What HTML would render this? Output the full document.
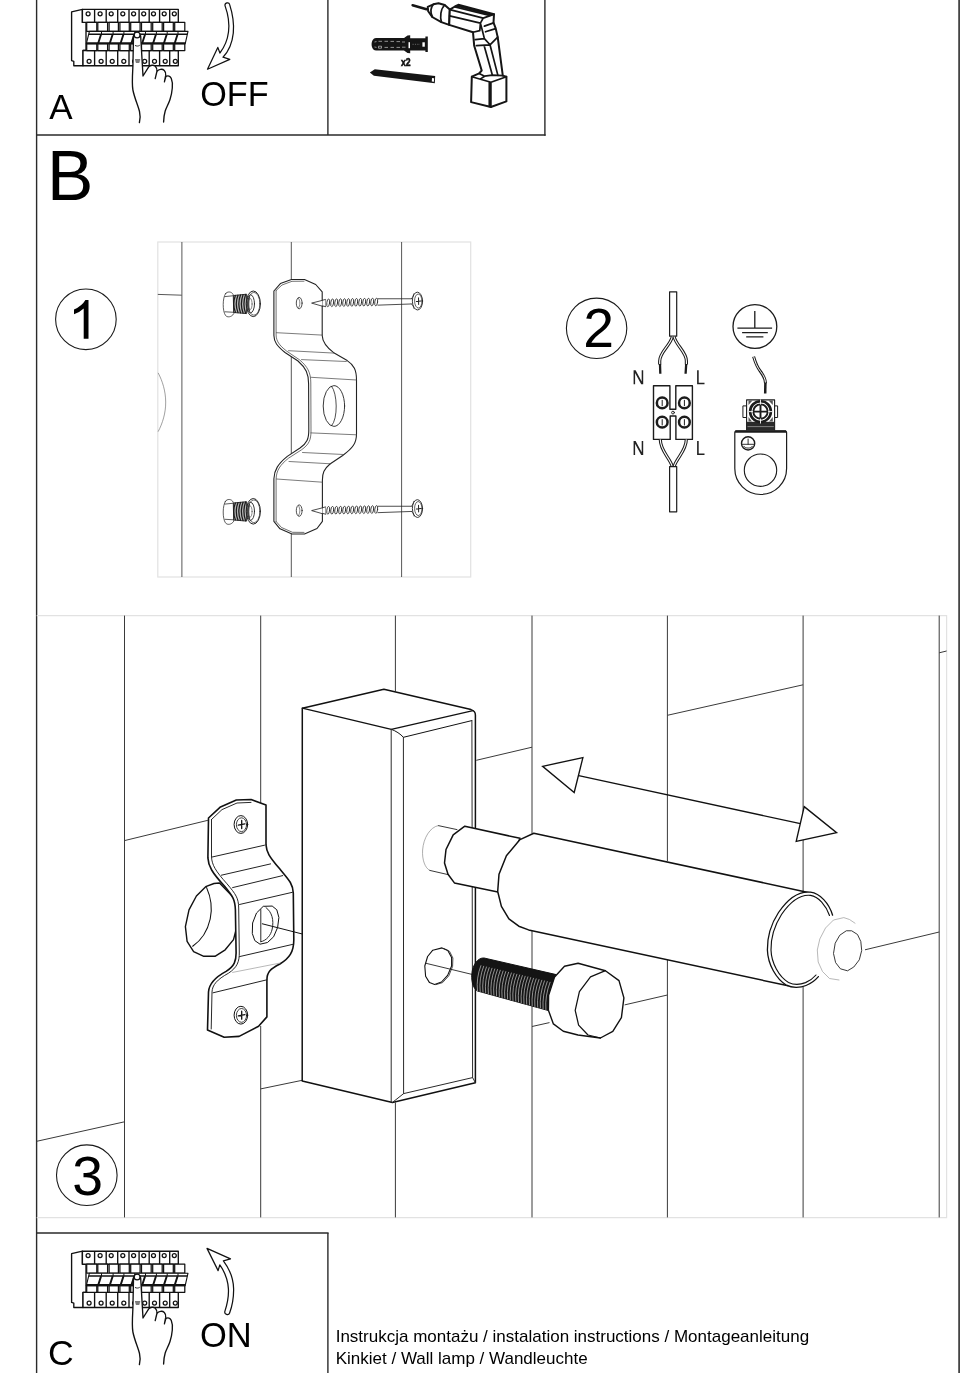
<!DOCTYPE html>
<html><head><meta charset="utf-8"><title>Instrukcja montażu</title>
<style>
html,body{margin:0;padding:0;background:#fff}
body{width:970px;height:1373px;overflow:hidden;font-family:"Liberation Sans",sans-serif}
svg{display:block;filter:grayscale(1)}
.f line{stroke:#2a2a2a;stroke-width:1.4;fill:none}
.lg *{stroke:#e2e2e2;stroke-width:1.2;fill:none}
.t line{stroke:#3a3a3a;stroke-width:1.0;fill:none}
.tx text{font-family:"Liberation Sans",sans-serif;fill:#000}
.c circle{stroke:#1a1a1a;stroke-width:1.1;fill:none}
.k{stroke:#111;stroke-width:1.2;fill:none;stroke-linejoin:round;stroke-linecap:round}
.kw{stroke:#111;stroke-width:1.2;fill:#fff;stroke-linejoin:round;stroke-linecap:round}
.n{stroke:#2a2a2a;stroke-width:1.0;fill:none;stroke-linejoin:round;stroke-linecap:round}
.nw{stroke:#2a2a2a;stroke-width:1.0;fill:#fff;stroke-linejoin:round;stroke-linecap:round}
</style></head>
<body>
<svg width="970" height="1373" viewBox="0 0 970 1373">
<rect x="0" y="0" width="970" height="1373" fill="#fff"/>
<g class="f">
<line x1="36.6" y1="0" x2="36.6" y2="1373"/>
<line x1="959.1" y1="0" x2="959.1" y2="1373" style="stroke-width:1.7;stroke:#3a3a3a"/>
<line x1="36" y1="135.05" x2="545.6" y2="135.05"/>
<line x1="327.9" y1="0" x2="327.9" y2="135"/>
<line x1="544.9" y1="0" x2="544.9" y2="135.7"/>
<line x1="36" y1="1233" x2="328.6" y2="1233"/>
<line x1="327.9" y1="1233" x2="327.9" y2="1373"/>
</g>
<g class="lg">
<polyline points="36.7,615.6 946.6,615.6 946.6,1217.7 36.7,1217.7"/>
<rect x="157.8" y="242" width="312.9" height="335"/>
</g>
<g class="tx">
<text x="49.2" y="119.4" font-size="35">A</text>
<text x="200.2" y="105.8" font-size="34.2">OFF</text>
<text x="47.1" y="200.3" font-size="69.5">B</text>
<path d="M88.5,338.8 L83.7,338.8 L83.7,308.4 Q79.8,312.1 74,314.2 L74,309.5 Q82.2,305.6 85.4,299.9 L88.5,299.9 Z" fill="#000"/>
<text x="583.2" y="347.4" font-size="55.3">2</text>
<text x="72.3" y="1194.6" font-size="55.3">3</text>
<text x="48" y="1364.7" font-size="35.6">C</text>
<text x="200" y="1347.4" font-size="34.5">ON</text>
<text x="335.7" y="1341.7" font-size="17">Instrukcja montażu / instalation instructions / Montageanleitung</text>
<text x="335.7" y="1364.4" font-size="17">Kinkiet / Wall lamp / Wandleuchte</text>
</g>
<g class="c">
<circle cx="85.9" cy="319.3" r="30.3"/>
<circle cx="596.6" cy="328.3" r="30.2"/>
<circle cx="86.8" cy="1175.2" r="30.3"/>
</g>
<g class="t">
<line x1="124.5" y1="615.6" x2="124.5" y2="1217.4"/>
<line x1="260.7" y1="615.6" x2="260.7" y2="803"/>
<line x1="260.7" y1="1026" x2="260.7" y2="1217.4"/>
<line x1="395.4" y1="615.6" x2="395.4" y2="691.5"/>
<line x1="395.4" y1="1102.5" x2="395.4" y2="1217.4"/>
<line x1="532" y1="615.6" x2="532" y2="833.5"/>
<line x1="532" y1="930.5" x2="532" y2="1217.4"/>
<line x1="667.4" y1="615.6" x2="667.4" y2="861"/>
<line x1="667.4" y1="960" x2="667.4" y2="1217.4"/>
<line x1="803.1" y1="615.6" x2="803.1" y2="891.5"/>
<line x1="803.1" y1="986.5" x2="803.1" y2="1217.4"/>
<line x1="939.2" y1="615.6" x2="939.2" y2="1217.4"/>
<line x1="36.7" y1="1141.3" x2="124.5" y2="1121.8"/>
<line x1="124.5" y1="840.6" x2="207.9" y2="820.3"/>
<line x1="260.7" y1="1088.9" x2="302.2" y2="1080.3"/>
<line x1="476.3" y1="760.3" x2="532" y2="747.2"/>
<line x1="532" y1="1026.5" x2="549.5" y2="1022.6"/>
<line x1="624.6" y1="1004.9" x2="667.4" y2="995"/>
<line x1="667.4" y1="715.3" x2="803.1" y2="684.8"/>
<line x1="865" y1="949.8" x2="939.2" y2="932"/>
<line x1="939.2" y1="652.8" x2="946.6" y2="651"/>
</g>
<g>
<path class="kw" style="stroke-width:1.5" d="M302.3,708.2 L383.9,689.2 L471,709.6 Q475.4,710.8 475.4,715 L475.4,1082.7 L392.4,1102.5 L302.2,1080.9 Z"/>
<path class="k" style="stroke-width:1.3" d="M302.3,708.2 L391.3,729.3 L473,710.7"/>
<path class="k" style="stroke-width:1.0" d="M391.3,729.3 C396,731 400.5,734 403.4,737.3 L471.8,720.6"/>
<path class="n" d="M391.2,729.3 L391.2,1102.2"/>
<path class="n" d="M403.4,737.3 L403.6,1093.6 L392.4,1102.5"/>
<path class="n" d="M403.6,1093.6 L472.6,1077.6"/>
<path class="n" d="M471.9,720.6 L472.6,1077.6 L475.4,1082.7"/>
</g>
<path class="n" style="stroke:#222;stroke-width:0.9" d="M438.3,825.6 L457,829.6 M429.7,870.4 L451,875.3"/>
<path class="n" style="stroke:#777;stroke-width:0.6" d="M438.3,825.6 C430,827 423.5,838 422.6,850 C422,860 425,868 429.7,870.4"/>
<path class="kw" style="stroke-width:1.5" d="M464.8,826.2 L453.2,834.8 L446,849.5 L444.5,863 L448,874.2 L454.4,882.9 L497.9,892.1 L520,838.3 Z"/>
<path class="kw" style="stroke-width:1.5" d="M533.8,833.3 L520,839.6 L506.4,855.7 L499,874.2 L497.7,891.5 L501.4,906.4 L508.9,918.8 L518.8,926.2 L528.6,929.9 L788.2,985.8 L815,960 L810.5,892.9 Z"/>
<path class="kw" style="stroke:none" d="M810.5,892.2 C800,891 789,897 778.5,912.5 C771,924 767.2,938 767.4,950 C767.8,964 776,979 786.5,985.2 C800,990 812,984 818.4,976.6 L832.6,915.2 C829,903 820,893.5 810.5,892.2 Z"/>
<path class="k" style="stroke-width:1.3" d="M832.6,915.2 C829,903 820,893.5 810.5,892.2 C800,891 789,897 778.5,912.5 C771,924 767.2,938 767.4,950 C767.8,964 776,979 786.5,985.2 C792,988 800,988 806,985.5 C811,983.5 815.5,980 818.4,976.6"/>
<path class="k" style="stroke-width:1.15" d="M829.5,915.5 C826,905.5 818.5,896.5 810.5,895.4 C801.5,894.4 791.5,900 781.5,914.5 C774.5,925.5 770.8,938.5 771,950 C771.4,963 779,977 788.5,982.4 C793.5,984.8 800,984.8 805.5,982.6 C810,980.6 813.5,978 816,975"/>
<path class="n" style="stroke:#999;stroke-width:0.7" d="M855,923.2 L849.5,919.5 L843.8,917.6 L833.5,920 L825.5,928 L819.8,939 L817.3,950 L818.2,962 L822.5,971.5 L829.5,978.5 L839,980"/>
<path class="nw" style="stroke:#222;stroke-width:0.9" d="M846,931 L839.8,935.2 L835.2,943.2 L833.5,953.5 L835.6,962.6 L840.4,968.8 L847.5,970.8 L853.8,967 L859.3,959.8 L861.7,950.5 L860.8,941.5 L857.5,934.5 L852,931 Z"/>
<path class="n" style="stroke:#111;stroke-width:1.1" d="M432.8,950.2 L427.6,956.5 L424.8,966 L425.6,976.2 L429.5,982.6 L434.6,984.4 L441.5,982 L447.6,975.4 L451.6,966 L451.6,957.5 L447.8,950.4 L442,947.9 Z"/>
<path class="n" style="stroke:#222;stroke-width:0.8" d="M444,948.6 L449.6,951.4 L452.9,958 L452.6,966.4 L448.8,975.8 L442.6,982.6 L436,984.6"/>
<path class="n" style="stroke:#222;stroke-width:0.9" d="M426,963.3 L472,974.4"/>
<path d="M484.1,958 C478,957.5 472.5,964.5 471.8,974.5 C471.3,982 473.5,989 477.5,991 L548.6,1010.6 L556.2,974.6 Z" fill="#141414" stroke="#111" stroke-width="1"/>
<path d="M481.0,965.3 Q476.1,978.1 477.5,991.0 M483.8,965.9 Q478.8,978.8 480.2,991.8 M486.6,966.6 Q481.6,979.5 483.0,992.5 M489.3,967.3 Q484.3,980.3 485.7,993.3 M492.1,967.9 Q487.1,981.0 488.4,994.0 M494.9,968.6 Q489.8,981.7 491.2,994.8 M497.6,969.2 Q492.6,982.4 493.9,995.5 M500.4,969.9 Q495.3,983.1 496.6,996.3 M503.2,970.6 Q498.1,983.8 499.4,997.0 M505.9,971.2 Q500.8,984.5 502.1,997.8 M508.7,971.9 Q503.6,985.2 504.8,998.5 M511.5,972.6 Q506.3,985.9 507.6,999.3 M514.2,973.2 Q509.1,986.6 510.3,1000.0 M517.0,973.9 Q511.8,987.3 513.0,1000.8 M519.8,974.6 Q514.6,988.1 515.8,1001.6 M522.5,975.2 Q517.3,988.8 518.5,1002.3 M525.3,975.9 Q520.1,989.5 521.3,1003.1 M528.0,976.5 Q522.8,990.2 524.0,1003.8 M530.8,977.2 Q525.6,990.9 526.7,1004.6 M533.6,977.9 Q528.3,991.6 529.5,1005.3 M536.3,978.5 Q531.1,992.3 532.2,1006.1 M539.1,979.2 Q533.8,993.0 534.9,1006.8 M541.9,979.9 Q536.6,993.7 537.7,1007.6 M544.6,980.5 Q539.3,994.4 540.4,1008.3 M547.4,981.2 Q542.1,995.1 543.1,1009.1 M550.2,981.9 Q544.8,995.9 545.9,1009.8 M552.9,982.5 Q547.6,996.6 548.6,1010.6" fill="none" stroke="#c8c8c8" stroke-width="0.7"/>
<path class="kw" style="stroke-width:1.4" d="M578.1,963.3 L564.5,966.3 L554.6,976.9 L548.6,995.4 L548.4,1010.3 L553.4,1023.9 L563.3,1031.3 L578,1035 L600.4,1038 L612.8,1031.3 L621.4,1017.7 L623.9,997.9 L619,980.6 L605.4,970.7 Z"/>
<path class="k" style="stroke-width:1.25" d="M605.4,970.7 L590.5,976.9 L579.4,991.7 L575.2,1010.3 L578.6,1025.1 L588,1035 L600.4,1038"/>
<path class="k" style="stroke-width:1.3" d="M578.7,775.7 L800.4,823.6"/>
<path class="kw" style="stroke-width:1.35;stroke-linejoin:miter" d="M542.6,766.3 L582.9,757.6 L574.2,792.5 Z"/>
<path class="kw" style="stroke-width:1.35;stroke-linejoin:miter" d="M804.2,806.6 L836.6,832.7 L796.2,841.4 Z"/>
<path class="kw" style="stroke-width:1.4" d="M219.5,883 L214,883.5 L205.7,886.7 L196.4,896 L189,909.9 L185.4,926.6 L187.1,941.4 L193.6,951.6 L203.8,956.3 L215,956.3 L225.2,949.8 L233.5,939.6 L236,930 L236,900 Z"/>
<path class="k" style="stroke-width:1.1" d="M206.6,887.6 C210.8,897 212.6,908 210.2,919 C207.5,931 201,940.5 192.7,946.2"/>
<path class="kw" style="stroke-width:1.6" d="M208.5,818 L220.5,806.9 L236.3,800 L251.1,799.5 L266,805 L266,844.9 C266.5,852 268.8,856.1 279.9,869.1 C289.2,880.2 292.9,884 293.3,893 L293.8,940 C293.8,952 289.2,958.5 279.9,964 C270.6,968.7 266.9,972 266.9,980 L266.9,1016.9 L258.6,1026.2 L239.1,1036.4 L224.2,1037.3 L207.5,1029.9 L208.5,992 C209,984 214,977.9 226.1,971.4 C234.4,966 236.3,961 236.1,952 L235.4,909.9 C235,900 233.5,897 224.2,885.8 C212.2,872.8 208.2,866 207.9,857.9 Z"/>
<path class="k" style="stroke-width:0.9" d="M211.5,819.5 L211.5,857 C212,865 215.5,871 227,883.8 C236,894.5 238.5,898 238.7,908 L239.3,952 C239.5,962 237,967.5 228.5,973.2 C217,979.5 212.3,985 212,992 L211.2,1029"/>
<path class="k" style="stroke-width:0.9" d="M211.5,819.5 L222,809.6 L237,803 L251,802.4"/>
<path class="n" style="stroke:#222" d="M212.2,857 L264.5,845.2 M221.4,875.2 L270.6,863.9 M232.6,887.6 L282.7,875.6 M239.5,904.5 L292.4,892.3 M239.5,956.6 L292.6,944.4 M213,992.8 L266.9,979.8"/>
<path class="n" style="stroke:#999;stroke-width:0.7" d="M232.6,972.4 L279.9,963.1"/>
<path class="n" style="stroke:#111;stroke-width:1.0" d="M263,906.6 L256.5,913 L252.6,923 L252.3,933.5 L254.8,940.6 L260,944.2 L267.5,942.5 L273.6,936.8 L277.6,927.5 L278.9,917.5 L276.8,909.8 L272.5,906.3 Z"/>
<path class="n" style="stroke:#111;stroke-width:0.9" d="M260.8,909.6 L260.8,941.5 M266,907.6 C272,912 274,920 272.2,929 C270.8,935.5 266.5,940.5 260.8,941.8"/>
<path class="n" style="stroke:#111;stroke-width:1.0" d="M262.3,923.8 L302.3,934"/>
<ellipse class="nw" style="stroke:#111;stroke-width:1.0" cx="240.9" cy="824.5" rx="6.8" ry="8.9"/>
<ellipse class="n" style="stroke:#111;stroke-width:0.8" cx="241.5" cy="824.7" rx="5.1" ry="6.9"/>
<path class="k" style="stroke-width:1.3" d="M241.70000000000002,820.5 L241.70000000000002,828.5 M238.3,825.1 L244.9,823.9"/>
<ellipse class="nw" style="stroke:#111;stroke-width:1.0" cx="240.9" cy="1015.2" rx="6.8" ry="8.9"/>
<ellipse class="n" style="stroke:#111;stroke-width:0.8" cx="241.5" cy="1015.4000000000001" rx="5.1" ry="6.9"/>
<path class="k" style="stroke-width:1.3" d="M241.70000000000002,1011.2 L241.70000000000002,1019.2 M238.3,1015.8000000000001 L244.9,1014.6"/>
<g class="t" style="opacity:0.85">
<line x1="181.9" y1="242" x2="181.9" y2="577"/>
<line x1="291.3" y1="242" x2="291.3" y2="279"/>
<line x1="291.3" y1="534" x2="291.3" y2="577"/>
<line x1="291.3" y1="356" x2="291.3" y2="457"/>
<line x1="401.6" y1="242" x2="401.6" y2="577"/>
<line x1="157.8" y1="294.4" x2="181.9" y2="295.2"/>
</g>
<path class="n" style="stroke:#777;stroke-width:0.7" d="M158.3,373.2 C162.5,381 165.6,391 165.7,402 C165.8,413 162.5,423.5 158.3,431.3"/>
<path class="kw" style="stroke:#222;stroke-width:1.1" d="M273.9,291 L280.4,283.6 L291.5,279.5 L304.5,279.5 L315.7,284.5 L322.2,291.9 L322.2,335.5 C322.4,342 326,347 334.2,353.1 L347.2,360.6 C354,365 356.5,370 356.5,380 L356.5,434 C356.5,443 353,448 342.7,455.5 L330,464 C324,469 322.4,473 322.4,480 L322.4,521.3 L317,528.5 L304.5,534 L292,534 L280,528.8 L273.9,521.3 L273.9,478.7 C274.2,470 278,464 287.3,456.4 L300,448 C307,443 308.8,439 308.8,430 L308.6,383.8 C308.6,374 306,368 298,361 L285,352.5 C277,346 274,342 273.9,335.5 Z"/>
<path class="n" style="stroke:#333;stroke-width:0.7" d="M276.1,290.5 L276.1,335 C276.3,341 279,345 286.5,351 L299.5,359.8 C307.5,366.5 310.8,372.5 310.8,383 L311,431 C311,440 309,444.5 301.5,449.8 L288.5,458.2 C280,465 276.4,470.5 276.1,479 L276.1,521.5"/>
<path class="n" style="stroke:#333;stroke-width:0.7" d="M276.1,290.5 L282,285 L292,281.3 L304,281.2 M276.1,521.5 L281.5,527.5 L292.5,532.3 L304,532.4"/>
<path class="n" style="stroke:#444;stroke-width:0.7" d="M276.5,332.7 L322.2,335.1 M288.5,350.7 L334.2,353.1 M301.5,359.6 L346.3,361.5 M311,377.3 L356.5,380 M311,432.9 L356.5,434.8 M302.5,452.5 L343.6,454.5 M289,461.5 L330.6,463.8 M276.5,479 L322.4,482.2"/>
<ellipse class="n" style="stroke:#222;stroke-width:0.9" cx="333.9" cy="406" rx="10.7" ry="20.4"/>
<path class="n" style="stroke:#222;stroke-width:0.8" d="M331.5,386.2 C337.5,393 338.2,419 331.5,425.8"/>
<ellipse class="n" style="stroke:#222;stroke-width:0.8" cx="299.2" cy="303.1" rx="2.9" ry="5.7"/>
<path class="n" style="stroke:#333;stroke-width:0.6" d="M298.4,298.2 C300.4,300.5 300.4,305.8 298.4,308"/>
<g transform="translate(0,0) rotate(-1.0 312 303)">
<path class="nw" style="stroke:#222;stroke-width:0.8" d="M312,303 L323,300.4 L323,306.2 Z"/>
<path class="nw" style="stroke:#222;stroke-width:0.8" d="M323,300.3 L325.9,299.6 L325.9,307 L323,306.2"/>
<rect x="325.9" y="299.4" width="52" height="7.4" fill="#fff" stroke="none"/>
<g class="n" style="stroke:#2a2a2a;stroke-width:0.85"><ellipse cx="328.20" cy="303.1" rx="1.4" ry="3.9" transform="rotate(8 328.20 303.1)"/><ellipse cx="332.20" cy="303.1" rx="1.4" ry="3.9" transform="rotate(8 332.20 303.1)"/><ellipse cx="336.20" cy="303.1" rx="1.4" ry="3.9" transform="rotate(8 336.20 303.1)"/><ellipse cx="340.20" cy="303.1" rx="1.4" ry="3.9" transform="rotate(8 340.20 303.1)"/><ellipse cx="344.20" cy="303.1" rx="1.4" ry="3.9" transform="rotate(8 344.20 303.1)"/><ellipse cx="348.20" cy="303.1" rx="1.4" ry="3.9" transform="rotate(8 348.20 303.1)"/><ellipse cx="352.20" cy="303.1" rx="1.4" ry="3.9" transform="rotate(8 352.20 303.1)"/><ellipse cx="356.20" cy="303.1" rx="1.4" ry="3.9" transform="rotate(8 356.20 303.1)"/><ellipse cx="360.20" cy="303.1" rx="1.4" ry="3.9" transform="rotate(8 360.20 303.1)"/><ellipse cx="364.20" cy="303.1" rx="1.4" ry="3.9" transform="rotate(8 364.20 303.1)"/><ellipse cx="368.20" cy="303.1" rx="1.4" ry="3.9" transform="rotate(8 368.20 303.1)"/><ellipse cx="372.20" cy="303.1" rx="1.4" ry="3.9" transform="rotate(8 372.20 303.1)"/><ellipse cx="376.20" cy="303.1" rx="1.4" ry="3.9" transform="rotate(8 376.20 303.1)"/></g>
<path class="nw" style="stroke:#222;stroke-width:0.8" d="M377.9,299.9 L411.5,300.5 M377.9,306.3 L411.5,305.7"/>
<ellipse class="nw" style="stroke:#222;stroke-width:0.9" cx="417.5" cy="302.9" rx="5.1" ry="8.9"/>
<ellipse class="n" style="stroke:#222;stroke-width:0.7" cx="418.3" cy="302.9" rx="3.7" ry="7"/>
<path class="k" style="stroke:#222;stroke-width:1.0" d="M418.6,299.6 L418.6,306.4 M416.3,303.2 L421,302.8"/>
<path class="n" style="stroke:#222;stroke-width:0.7" d="M411.5,300.5 C413,299 413.5,297 414,295.5 M411.5,305.7 C413,307 413.5,309 414,310.5"/>
</g>
<g transform="translate(0,0)">
<path class="nw" style="stroke:#333;stroke-width:0.8" d="M225.5,293.7 C227,291.2 231.5,291.2 233.2,294.6 L233.8,313.6 C231.5,317.5 227,317.6 225.5,315.4 C222.4,311 222.4,298 225.5,293.7 Z"/>
<path class="n" style="stroke:#333;stroke-width:0.8" d="M224.9,296.6 L233.8,295.7 M225,311.8 L233.8,312.3"/>
<path d="M233.6,295.5 L246.6,294.2 L246.6,313.6 L233.6,312.5 Z" fill="#b4b4b4" stroke="#222" stroke-width="0.9"/>
<path class="n" style="stroke:#1a1a1a;stroke-width:1.25" d="M235.40,295.50 C233.40,300.54 233.40,307.26 235.40,312.30 M237.95,295.25 C235.95,300.44 235.95,307.36 237.95,312.55 M240.50,295.00 C238.50,300.34 238.50,307.46 240.50,312.80 M243.05,294.75 C241.05,300.24 241.05,307.56 243.05,313.05 M245.60,294.50 C243.60,300.14 243.60,307.66 245.60,313.30"/>
<ellipse class="nw" style="stroke:#222;stroke-width:1.0" cx="253.3" cy="303.8" rx="7.1" ry="12.8"/>
<ellipse class="n" style="stroke:#333;stroke-width:0.7" cx="253.9" cy="303.8" rx="6" ry="11.4"/>
<ellipse class="n" style="stroke:#222;stroke-width:0.9" cx="250.6" cy="303.8" rx="3.9" ry="9"/>
<path d="M249.6,296.5 C246.8,300 246.8,308 249.6,311.3 C248.6,307 248.6,301 249.6,296.5 Z" fill="#333" stroke="#333" stroke-width="0.8"/>
<ellipse class="n" style="stroke:#555;stroke-width:0.7" cx="250.2" cy="304" rx="1.9" ry="5.6"/>
</g>
<ellipse class="n" style="stroke:#222;stroke-width:0.8" cx="299.2" cy="510.6" rx="2.9" ry="5.7"/>
<path class="n" style="stroke:#333;stroke-width:0.6" d="M298.4,505.7 C300.4,508.0 300.4,513.3 298.4,515.5"/>
<g transform="translate(0,207.5) rotate(-1.0 312 303)">
<path class="nw" style="stroke:#222;stroke-width:0.8" d="M312,303 L323,300.4 L323,306.2 Z"/>
<path class="nw" style="stroke:#222;stroke-width:0.8" d="M323,300.3 L325.9,299.6 L325.9,307 L323,306.2"/>
<rect x="325.9" y="299.4" width="52" height="7.4" fill="#fff" stroke="none"/>
<g class="n" style="stroke:#2a2a2a;stroke-width:0.85"><ellipse cx="328.20" cy="303.1" rx="1.4" ry="3.9" transform="rotate(8 328.20 303.1)"/><ellipse cx="332.20" cy="303.1" rx="1.4" ry="3.9" transform="rotate(8 332.20 303.1)"/><ellipse cx="336.20" cy="303.1" rx="1.4" ry="3.9" transform="rotate(8 336.20 303.1)"/><ellipse cx="340.20" cy="303.1" rx="1.4" ry="3.9" transform="rotate(8 340.20 303.1)"/><ellipse cx="344.20" cy="303.1" rx="1.4" ry="3.9" transform="rotate(8 344.20 303.1)"/><ellipse cx="348.20" cy="303.1" rx="1.4" ry="3.9" transform="rotate(8 348.20 303.1)"/><ellipse cx="352.20" cy="303.1" rx="1.4" ry="3.9" transform="rotate(8 352.20 303.1)"/><ellipse cx="356.20" cy="303.1" rx="1.4" ry="3.9" transform="rotate(8 356.20 303.1)"/><ellipse cx="360.20" cy="303.1" rx="1.4" ry="3.9" transform="rotate(8 360.20 303.1)"/><ellipse cx="364.20" cy="303.1" rx="1.4" ry="3.9" transform="rotate(8 364.20 303.1)"/><ellipse cx="368.20" cy="303.1" rx="1.4" ry="3.9" transform="rotate(8 368.20 303.1)"/><ellipse cx="372.20" cy="303.1" rx="1.4" ry="3.9" transform="rotate(8 372.20 303.1)"/><ellipse cx="376.20" cy="303.1" rx="1.4" ry="3.9" transform="rotate(8 376.20 303.1)"/></g>
<path class="nw" style="stroke:#222;stroke-width:0.8" d="M377.9,299.9 L411.5,300.5 M377.9,306.3 L411.5,305.7"/>
<ellipse class="nw" style="stroke:#222;stroke-width:0.9" cx="417.5" cy="302.9" rx="5.1" ry="8.9"/>
<ellipse class="n" style="stroke:#222;stroke-width:0.7" cx="418.3" cy="302.9" rx="3.7" ry="7"/>
<path class="k" style="stroke:#222;stroke-width:1.0" d="M418.6,299.6 L418.6,306.4 M416.3,303.2 L421,302.8"/>
<path class="n" style="stroke:#222;stroke-width:0.7" d="M411.5,300.5 C413,299 413.5,297 414,295.5 M411.5,305.7 C413,307 413.5,309 414,310.5"/>
</g>
<g transform="translate(0,207.5)">
<path class="nw" style="stroke:#333;stroke-width:0.8" d="M225.5,293.7 C227,291.2 231.5,291.2 233.2,294.6 L233.8,313.6 C231.5,317.5 227,317.6 225.5,315.4 C222.4,311 222.4,298 225.5,293.7 Z"/>
<path class="n" style="stroke:#333;stroke-width:0.8" d="M224.9,296.6 L233.8,295.7 M225,311.8 L233.8,312.3"/>
<path d="M233.6,295.5 L246.6,294.2 L246.6,313.6 L233.6,312.5 Z" fill="#b4b4b4" stroke="#222" stroke-width="0.9"/>
<path class="n" style="stroke:#1a1a1a;stroke-width:1.25" d="M235.40,295.50 C233.40,300.54 233.40,307.26 235.40,312.30 M237.95,295.25 C235.95,300.44 235.95,307.36 237.95,312.55 M240.50,295.00 C238.50,300.34 238.50,307.46 240.50,312.80 M243.05,294.75 C241.05,300.24 241.05,307.56 243.05,313.05 M245.60,294.50 C243.60,300.14 243.60,307.66 245.60,313.30"/>
<ellipse class="nw" style="stroke:#222;stroke-width:1.0" cx="253.3" cy="303.8" rx="7.1" ry="12.8"/>
<ellipse class="n" style="stroke:#333;stroke-width:0.7" cx="253.9" cy="303.8" rx="6" ry="11.4"/>
<ellipse class="n" style="stroke:#222;stroke-width:0.9" cx="250.6" cy="303.8" rx="3.9" ry="9"/>
<path d="M249.6,296.5 C246.8,300 246.8,308 249.6,311.3 C248.6,307 248.6,301 249.6,296.5 Z" fill="#333" stroke="#333" stroke-width="0.8"/>
<ellipse class="n" style="stroke:#555;stroke-width:0.7" cx="250.2" cy="304" rx="1.9" ry="5.6"/>
</g>
<rect class="k" style="stroke:#1c1c1c;stroke-width:1.2" x="669.6" y="291.8" width="7.1" height="44.4"/>
<path d="M672.4,336.6 C670,346 659.7,352 659.7,361 L659.7,364.5" fill="none" stroke="#1c1c1c" stroke-width="3.2" stroke-linecap="butt"/>
<path d="M672.4,336.6 C670,346 659.7,352 659.7,361 L659.7,364.5" fill="none" stroke="#fff" stroke-width="1.1" stroke-linecap="butt"/>
<path d="M674,336.6 C676.5,346 686.4,352 686.4,361 L686.4,364.5" fill="none" stroke="#1c1c1c" stroke-width="3.2" stroke-linecap="butt"/>
<path d="M674,336.6 C676.5,346 686.4,352 686.4,361 L686.4,364.5" fill="none" stroke="#fff" stroke-width="1.1" stroke-linecap="butt"/>
<path class="k" style="stroke:#1c1c1c;stroke-width:2.3;stroke-linecap:butt" d="M660,364 L660.3,373.8 M686.2,364 L685.6,373.8"/>
<path class="kw" style="stroke:#1c1c1c;stroke-width:1.4" d="M653.5,385.7 L669.9,385.7 L669.9,409.2 L675.8,409.2 L675.8,385.7 L692.4,385.7 L692.4,439.4 L675.9,439.4 L675.9,416 L670.2,416 L670.2,439.4 L653.5,439.4 Z"/>
<circle class="k" style="stroke:#1c1c1c;stroke-width:0.9" cx="673" cy="412.6" r="1.4"/>
<circle class="k" style="stroke:#1c1c1c;stroke-width:2.5" cx="662.2" cy="402.9" r="5.35"/>
<path class="k" style="stroke:#1c1c1c;stroke-width:1.0" d="M662.2,400.29999999999995 L662.2,405.7"/>
<circle class="k" style="stroke:#1c1c1c;stroke-width:2.5" cx="662.2" cy="422.2" r="5.35"/>
<path class="k" style="stroke:#1c1c1c;stroke-width:1.0" d="M662.2,419.59999999999997 L662.2,425.0"/>
<circle class="k" style="stroke:#1c1c1c;stroke-width:2.5" cx="684.4" cy="402.9" r="5.35"/>
<path class="k" style="stroke:#1c1c1c;stroke-width:1.0" d="M684.4,400.29999999999995 L684.4,405.7"/>
<circle class="k" style="stroke:#1c1c1c;stroke-width:2.5" cx="684.4" cy="422.2" r="5.35"/>
<path class="k" style="stroke:#1c1c1c;stroke-width:1.0" d="M684.4,419.59999999999997 L684.4,425.0"/>
<path d="M660.3,439.6 C660.3,451 670,458 672.3,466.6" fill="none" stroke="#1c1c1c" stroke-width="3.2" stroke-linecap="butt"/>
<path d="M660.3,439.6 C660.3,451 670,458 672.3,466.6" fill="none" stroke="#fff" stroke-width="1.1" stroke-linecap="butt"/>
<path d="M686.3,439.6 C686.3,451 676.4,458 674.1,466.6" fill="none" stroke="#1c1c1c" stroke-width="3.2" stroke-linecap="butt"/>
<path d="M686.3,439.6 C686.3,451 676.4,458 674.1,466.6" fill="none" stroke="#fff" stroke-width="1.1" stroke-linecap="butt"/>
<rect class="kw" style="stroke:#1c1c1c;stroke-width:1.2" x="669.6" y="466.6" width="7.1" height="45.2"/>
<path d="M633.6,384.3 L633.6,370.2 L635.6,370.2 L641.7,381.5 L641.7,370.2 L643.2,370.2 L643.2,384.3 L641.2,384.3 L635.1,373.0 L635.1,384.3 Z" fill="#222"/>
<path d="M633.6,455.0 L633.6,440.9 L635.6,440.9 L641.7,452.2 L641.7,440.9 L643.2,440.9 L643.2,455.0 L641.2,455.0 L635.1,443.7 L635.1,455.0 Z" fill="#222"/>
<path d="M697.1,370.2 L698.7,370.2 L698.7,382.8 L704.5,382.8 L704.5,384.3 L697.1,384.3 Z" fill="#222"/>
<path d="M697.1,440.9 L698.7,440.9 L698.7,453.5 L704.5,453.5 L704.5,455.0 L697.1,455.0 Z" fill="#222"/>
<circle class="k" style="stroke:#1c1c1c;stroke-width:1.3" cx="754.9" cy="326.5" r="21.9"/>
<path class="k" style="stroke:#1c1c1c;stroke-width:1.3;stroke-linecap:butt" d="M754.8,310.9 L754.8,328.2 M737.4,328.2 L772.1,328.2 M742.1,332.7 L767.8,332.7 M746.2,336.9 L763.4,336.9"/>
<path d="M753.6,356.6 C755.5,363 757,367 760.5,371.5 C763.5,375.5 765.3,378.5 765.5,383.2" fill="none" stroke="#1c1c1c" stroke-width="3.0" stroke-linecap="butt"/>
<path d="M753.6,356.6 C755.5,363 757,367 760.5,371.5 C763.5,375.5 765.3,378.5 765.5,383.2" fill="none" stroke="#fff" stroke-width="1.0" stroke-linecap="butt"/>
<path class="k" style="stroke:#1c1c1c;stroke-width:2.5;stroke-linecap:butt" d="M765.4,382.6 L765.2,393.6"/>
<path class="kw" style="stroke:#1c1c1c;stroke-width:1.2" d="M736,431.2 L785.4,431.2 Q786.6,431.2 786.6,432.6 L786.6,468.6 A25.9,25.9 0 0 1 734.8,468.6 L734.8,432.6 Q734.8,431.2 736,431.2 Z"/>
<path d="M735.4,430.2 L786,430.2 L786.4,432.8 L735,432.8 Z" fill="#1c1c1c"/>
<circle class="k" style="stroke:#1c1c1c;stroke-width:1.1" cx="760.5" cy="470.2" r="16.2"/>
<circle class="k" style="stroke:#1c1c1c;stroke-width:1.4" cx="748.1" cy="443.4" r="6.6"/>
<path class="k" style="stroke:#1c1c1c;stroke-width:0.9" d="M748.1,439 L748.1,444.3 M742.3,444.3 L753.9,444.3 M743.6,446.2 C745.5,448.8 750.7,448.8 752.6,446.2"/>
<rect class="kw" style="stroke:#1c1c1c;stroke-width:1.0" x="743.3" y="405.9" width="3.3" height="11.6"/>
<rect class="kw" style="stroke:#1c1c1c;stroke-width:1.0" x="774.6" y="405.9" width="3" height="11.6"/>
<rect class="kw" style="stroke:#1c1c1c;stroke-width:1.1" x="746.6" y="399.9" width="28" height="30.4"/>
<rect x="747" y="421.8" width="27.2" height="8.6" fill="#2a2a2a"/>
<path d="M747.5,426.6 L773.8,426.6" stroke="#8a8a8a" stroke-width="0.9" fill="none"/>
<circle cx="760.5" cy="411.6" r="10.4" fill="#fff" stroke="#1c1c1c" stroke-width="2.6"/>
<circle cx="760.5" cy="411.6" r="7.2" fill="none" stroke="#1c1c1c" stroke-width="1.9"/>
<path class="k" style="stroke:#1c1c1c;stroke-width:1.9;stroke-linecap:butt" d="M760.5,405 L760.5,418.2 M753.9,411.6 L767.1,411.6"/>
<path class="k" style="stroke:#1c1c1c;stroke-width:0.9;stroke-linecap:butt;stroke:#fff" d="M760.5,399.5 L760.5,404.5 M760.5,418.6 L760.5,423.5 M748.8,411.6 L753,411.6 M768,411.6 L772.4,411.6"/>
<path d="M748.5,400.5 L752.5,400.5 L748.5,405 Z M772.8,400.5 L768.6,400.5 L772.8,405 Z M748.5,421.5 L748.5,417 L752,421.5 Z M772.8,421.5 L772.8,417 L769,421.5 Z" fill="#555"/>
<g transform="translate(0,0)">
<path class="kw" style="stroke:#111;stroke-width:1.35" d="M82.4,9.4 L71.6,11.9 L71.6,60.6 L73.8,61.3 L73.8,65.7 L83,65.7 L83,50.5 L86,50.5 L86,22.4 L82.4,22.4 Z"/>
<rect class="kw" style="stroke:#111;stroke-width:1.35" x="82.4" y="9.4" width="95.9" height="13"/>
<rect class="kw" style="stroke:#111;stroke-width:1.35" x="83" y="50.5" width="95.3" height="15.2"/>
<path class="k" style="stroke:#111;stroke-width:1.35;stroke-linecap:butt" d="M94.6,9.4 L94.6,22.4 M94.6,50.5 L94.6,65.7 M106.2,9.4 L106.2,22.4 M106.2,50.5 L106.2,65.7 M117.7,9.4 L117.7,22.4 M117.7,50.5 L117.7,65.7 M129,9.4 L129,22.4 M129,50.5 L129,65.7 M139.1,9.4 L139.1,22.4 M139.1,50.5 L139.1,65.7 M149.2,9.4 L149.2,22.4 M149.2,50.5 L149.2,65.7 M159.6,9.4 L159.6,22.4 M159.6,50.5 L159.6,65.7 M169.7,9.4 L169.7,22.4 M169.7,50.5 L169.7,65.7"/>
<circle class="k" style="stroke:#111;stroke-width:1.25" cx="88.1" cy="13.8" r="2.0"/>
<circle class="k" style="stroke:#111;stroke-width:1.25" cx="89.1" cy="61.3" r="2.0"/>
<circle class="k" style="stroke:#111;stroke-width:1.25" cx="100.1" cy="13.8" r="2.0"/>
<circle class="k" style="stroke:#111;stroke-width:1.25" cx="101.1" cy="61.3" r="2.0"/>
<circle class="k" style="stroke:#111;stroke-width:1.25" cx="111.2" cy="13.8" r="2.0"/>
<circle class="k" style="stroke:#111;stroke-width:1.25" cx="112.2" cy="61.3" r="2.0"/>
<circle class="k" style="stroke:#111;stroke-width:1.25" cx="122.8" cy="13.8" r="2.0"/>
<circle class="k" style="stroke:#111;stroke-width:1.25" cx="123.8" cy="61.3" r="2.0"/>
<circle class="k" style="stroke:#111;stroke-width:1.25" cx="133.6" cy="13.8" r="2.0"/>
<circle class="k" style="stroke:#111;stroke-width:1.25" cx="134.6" cy="61.3" r="2.0"/>
<circle class="k" style="stroke:#111;stroke-width:1.25" cx="143.7" cy="13.8" r="2.0"/>
<circle class="k" style="stroke:#111;stroke-width:1.25" cx="144.7" cy="61.3" r="2.0"/>
<circle class="k" style="stroke:#111;stroke-width:1.25" cx="153.5" cy="13.8" r="2.0"/>
<circle class="k" style="stroke:#111;stroke-width:1.25" cx="154.5" cy="61.3" r="2.0"/>
<circle class="k" style="stroke:#111;stroke-width:1.25" cx="164.2" cy="13.8" r="2.0"/>
<circle class="k" style="stroke:#111;stroke-width:1.25" cx="165.2" cy="61.3" r="2.0"/>
<circle class="k" style="stroke:#111;stroke-width:1.25" cx="174.3" cy="13.8" r="2.0"/>
<circle class="k" style="stroke:#111;stroke-width:1.25" cx="175.3" cy="61.3" r="2.0"/>
<rect class="kw" style="stroke:#111;stroke-width:1.25" x="86.7" y="22.4" width="10.1" height="9"/>
<rect class="kw" style="stroke:#111;stroke-width:1.25" x="86.7" y="43.6" width="10.1" height="6.9"/>
<rect class="kw" style="stroke:#111;stroke-width:1.25" x="97.8" y="22.4" width="9.8" height="9"/>
<rect class="kw" style="stroke:#111;stroke-width:1.25" x="97.8" y="43.6" width="9.8" height="6.9"/>
<rect class="kw" style="stroke:#111;stroke-width:1.25" x="109.1" y="22.4" width="9.3" height="9"/>
<rect class="kw" style="stroke:#111;stroke-width:1.25" x="109.1" y="43.6" width="9.3" height="6.9"/>
<rect class="kw" style="stroke:#111;stroke-width:1.25" x="119.9" y="22.4" width="9.4" height="9"/>
<rect class="kw" style="stroke:#111;stroke-width:1.25" x="119.9" y="43.6" width="9.4" height="6.9"/>
<rect class="kw" style="stroke:#111;stroke-width:1.25" x="130.7" y="22.4" width="9.4" height="9"/>
<rect class="kw" style="stroke:#111;stroke-width:1.25" x="130.7" y="43.6" width="9.4" height="6.9"/>
<rect class="kw" style="stroke:#111;stroke-width:1.25" x="141.5" y="22.4" width="9.7" height="9"/>
<rect class="kw" style="stroke:#111;stroke-width:1.25" x="141.5" y="43.6" width="9.7" height="6.9"/>
<rect class="kw" style="stroke:#111;stroke-width:1.25" x="152.7" y="22.4" width="9.5" height="9"/>
<rect class="kw" style="stroke:#111;stroke-width:1.25" x="152.7" y="43.6" width="9.5" height="6.9"/>
<rect class="kw" style="stroke:#111;stroke-width:1.25" x="163.6" y="22.4" width="9.7" height="9"/>
<rect class="kw" style="stroke:#111;stroke-width:1.25" x="163.6" y="43.6" width="9.7" height="6.9"/>
<rect class="kw" style="stroke:#111;stroke-width:1.25" x="174.7" y="22.4" width="10.1" height="9"/>
<rect class="kw" style="stroke:#111;stroke-width:1.25" x="174.7" y="43.6" width="10.1" height="6.9"/>
<path class="kw" style="stroke:#111;stroke-width:1.1" d="M89.4,31.4 L188,31.4 L185.2,43.8 L86.3,43.8 Z"/>
<path class="k" style="stroke:#111;stroke-width:1.5;stroke-linecap:butt" d="M88.9,34.3 L187.3,34.3"/>
<path class="k" style="stroke:#111;stroke-width:2.1;stroke-linecap:butt" d="M86.4,43.3 L185.2,43.3"/>
<path class="k" style="stroke:#111;stroke-width:1.9;stroke-linecap:butt" d="M101.1,34.3 L98.19999999999999,43.3 M112.7,34.3 L109.8,43.3 M123.5,34.3 L120.6,43.3 M134.3,34.3 L131.4,43.3 M145.1,34.3 L142.2,43.3 M156,34.3 L153.1,43.3 M166.8,34.3 L163.9,43.3 M177.6,34.3 L174.7,43.3"/>
<path class="k" style="stroke:#111;stroke-width:1.0;stroke-linecap:butt" d="M101.5,31.4 L101.5,34.3 M113.10000000000001,31.4 L113.10000000000001,34.3 M123.9,31.4 L123.9,34.3 M134.70000000000002,31.4 L134.70000000000002,34.3 M145.5,31.4 L145.5,34.3 M156.4,31.4 L156.4,34.3 M167.20000000000002,31.4 L167.20000000000002,34.3 M178.0,31.4 L178.0,34.3"/>
</g>
<g transform="translate(0,0)">
<path d="M139.4,122.6 C140.4,118 140.4,115 139.5,111.5 C138,105.5 134.5,98 132.9,90 C131.8,84 132.6,72 132.9,66.4 L133.5,36.5 A3.6,3.6 0 0 1 140.7,36.5 L143,76 L148.7,66.9 C150.5,65 153.5,64.6 155.3,66.3 C158.8,69 162.4,68.6 164.3,70.4 C168,75.2 170.3,76 171.3,78.5 C172.5,81.5 172.6,85 172.3,88 C171.9,92.5 171.2,96 170,99.5 C168.5,104 166.4,107.5 165.2,111 C164,115 163.7,118.5 163.6,122 Z" fill="#fff" stroke="none"/>
<path class="k" style="stroke:#111;stroke-width:1.35" d="M139.4,122.6 C140.4,118 140.4,115 139.5,111.5 C138,105.5 134.5,98 132.9,90 C131.8,84 132.6,72 132.9,66.4 L133.5,36.5 A3.6,3.6 0 0 1 140.7,36.5 L143,76 L148.7,66.9 C150.5,65 153.5,64.6 155.3,66.3 C156.8,67.8 157.2,69.5 156.9,71.5 L155.2,78.6 L156.9,71.5 C158.8,69 162.4,68.6 164.3,70.4 C165.8,71.8 166,73.6 165.7,75.4 L164.4,81.8 L165.9,76.4 C168,75.2 170.3,76 171.3,78.5 C172.5,81.5 172.6,85 172.3,88 C171.9,92.5 171.2,96 170,99.5 C168.5,104 166.4,107.5 165.2,111 C164,115 163.7,118.5 163.6,122 "/>
<circle class="kw" style="stroke:#111;stroke-width:1.25" cx="137.1" cy="34.9" r="2.9"/>
<path class="k" style="stroke:#111;stroke-width:0.9" d="M135.3,45.6 C136.5,46.3 138.2,46.3 139.4,45.5"/>
<path class="k" style="stroke:#111;stroke-width:0.8" d="M135.4,59.8 L139.8,59.8 M135.8,61 L139.4,61 M136.2,62.2 L139,62.2"/>
</g>
<g transform="translate(0,1241.8)">
<path class="kw" style="stroke:#111;stroke-width:1.35" d="M82.4,9.4 L71.6,11.9 L71.6,60.6 L73.8,61.3 L73.8,65.7 L83,65.7 L83,50.5 L86,50.5 L86,22.4 L82.4,22.4 Z"/>
<rect class="kw" style="stroke:#111;stroke-width:1.35" x="82.4" y="9.4" width="95.9" height="13"/>
<rect class="kw" style="stroke:#111;stroke-width:1.35" x="83" y="50.5" width="95.3" height="15.2"/>
<path class="k" style="stroke:#111;stroke-width:1.35;stroke-linecap:butt" d="M94.6,9.4 L94.6,22.4 M94.6,50.5 L94.6,65.7 M106.2,9.4 L106.2,22.4 M106.2,50.5 L106.2,65.7 M117.7,9.4 L117.7,22.4 M117.7,50.5 L117.7,65.7 M129,9.4 L129,22.4 M129,50.5 L129,65.7 M139.1,9.4 L139.1,22.4 M139.1,50.5 L139.1,65.7 M149.2,9.4 L149.2,22.4 M149.2,50.5 L149.2,65.7 M159.6,9.4 L159.6,22.4 M159.6,50.5 L159.6,65.7 M169.7,9.4 L169.7,22.4 M169.7,50.5 L169.7,65.7"/>
<circle class="k" style="stroke:#111;stroke-width:1.25" cx="88.1" cy="13.8" r="2.0"/>
<circle class="k" style="stroke:#111;stroke-width:1.25" cx="89.1" cy="61.3" r="2.0"/>
<circle class="k" style="stroke:#111;stroke-width:1.25" cx="100.1" cy="13.8" r="2.0"/>
<circle class="k" style="stroke:#111;stroke-width:1.25" cx="101.1" cy="61.3" r="2.0"/>
<circle class="k" style="stroke:#111;stroke-width:1.25" cx="111.2" cy="13.8" r="2.0"/>
<circle class="k" style="stroke:#111;stroke-width:1.25" cx="112.2" cy="61.3" r="2.0"/>
<circle class="k" style="stroke:#111;stroke-width:1.25" cx="122.8" cy="13.8" r="2.0"/>
<circle class="k" style="stroke:#111;stroke-width:1.25" cx="123.8" cy="61.3" r="2.0"/>
<circle class="k" style="stroke:#111;stroke-width:1.25" cx="133.6" cy="13.8" r="2.0"/>
<circle class="k" style="stroke:#111;stroke-width:1.25" cx="134.6" cy="61.3" r="2.0"/>
<circle class="k" style="stroke:#111;stroke-width:1.25" cx="143.7" cy="13.8" r="2.0"/>
<circle class="k" style="stroke:#111;stroke-width:1.25" cx="144.7" cy="61.3" r="2.0"/>
<circle class="k" style="stroke:#111;stroke-width:1.25" cx="153.5" cy="13.8" r="2.0"/>
<circle class="k" style="stroke:#111;stroke-width:1.25" cx="154.5" cy="61.3" r="2.0"/>
<circle class="k" style="stroke:#111;stroke-width:1.25" cx="164.2" cy="13.8" r="2.0"/>
<circle class="k" style="stroke:#111;stroke-width:1.25" cx="165.2" cy="61.3" r="2.0"/>
<circle class="k" style="stroke:#111;stroke-width:1.25" cx="174.3" cy="13.8" r="2.0"/>
<circle class="k" style="stroke:#111;stroke-width:1.25" cx="175.3" cy="61.3" r="2.0"/>
<rect class="kw" style="stroke:#111;stroke-width:1.25" x="86.7" y="22.4" width="10.1" height="9"/>
<rect class="kw" style="stroke:#111;stroke-width:1.25" x="86.7" y="43.6" width="10.1" height="6.9"/>
<rect class="kw" style="stroke:#111;stroke-width:1.25" x="97.8" y="22.4" width="9.8" height="9"/>
<rect class="kw" style="stroke:#111;stroke-width:1.25" x="97.8" y="43.6" width="9.8" height="6.9"/>
<rect class="kw" style="stroke:#111;stroke-width:1.25" x="109.1" y="22.4" width="9.3" height="9"/>
<rect class="kw" style="stroke:#111;stroke-width:1.25" x="109.1" y="43.6" width="9.3" height="6.9"/>
<rect class="kw" style="stroke:#111;stroke-width:1.25" x="119.9" y="22.4" width="9.4" height="9"/>
<rect class="kw" style="stroke:#111;stroke-width:1.25" x="119.9" y="43.6" width="9.4" height="6.9"/>
<rect class="kw" style="stroke:#111;stroke-width:1.25" x="130.7" y="22.4" width="9.4" height="9"/>
<rect class="kw" style="stroke:#111;stroke-width:1.25" x="130.7" y="43.6" width="9.4" height="6.9"/>
<rect class="kw" style="stroke:#111;stroke-width:1.25" x="141.5" y="22.4" width="9.7" height="9"/>
<rect class="kw" style="stroke:#111;stroke-width:1.25" x="141.5" y="43.6" width="9.7" height="6.9"/>
<rect class="kw" style="stroke:#111;stroke-width:1.25" x="152.7" y="22.4" width="9.5" height="9"/>
<rect class="kw" style="stroke:#111;stroke-width:1.25" x="152.7" y="43.6" width="9.5" height="6.9"/>
<rect class="kw" style="stroke:#111;stroke-width:1.25" x="163.6" y="22.4" width="9.7" height="9"/>
<rect class="kw" style="stroke:#111;stroke-width:1.25" x="163.6" y="43.6" width="9.7" height="6.9"/>
<rect class="kw" style="stroke:#111;stroke-width:1.25" x="174.7" y="22.4" width="10.1" height="9"/>
<rect class="kw" style="stroke:#111;stroke-width:1.25" x="174.7" y="43.6" width="10.1" height="6.9"/>
<path class="kw" style="stroke:#111;stroke-width:1.1" d="M89.4,31.4 L188,31.4 L185.2,43.8 L86.3,43.8 Z"/>
<path class="k" style="stroke:#111;stroke-width:1.5;stroke-linecap:butt" d="M88.9,34.3 L187.3,34.3"/>
<path class="k" style="stroke:#111;stroke-width:2.1;stroke-linecap:butt" d="M86.4,43.3 L185.2,43.3"/>
<path class="k" style="stroke:#111;stroke-width:1.9;stroke-linecap:butt" d="M101.1,34.3 L98.19999999999999,43.3 M112.7,34.3 L109.8,43.3 M123.5,34.3 L120.6,43.3 M134.3,34.3 L131.4,43.3 M145.1,34.3 L142.2,43.3 M156,34.3 L153.1,43.3 M166.8,34.3 L163.9,43.3 M177.6,34.3 L174.7,43.3"/>
<path class="k" style="stroke:#111;stroke-width:1.0;stroke-linecap:butt" d="M101.5,31.4 L101.5,34.3 M113.10000000000001,31.4 L113.10000000000001,34.3 M123.9,31.4 L123.9,34.3 M134.70000000000002,31.4 L134.70000000000002,34.3 M145.5,31.4 L145.5,34.3 M156.4,31.4 L156.4,34.3 M167.20000000000002,31.4 L167.20000000000002,34.3 M178.0,31.4 L178.0,34.3"/>
</g>
<g transform="translate(0,1242)">
<path d="M139.4,122.6 C140.4,118 140.4,115 139.5,111.5 C138,105.5 134.5,98 132.9,90 C131.8,84 132.6,72 132.9,66.4 L133.5,36.5 A3.6,3.6 0 0 1 140.7,36.5 L143,76 L148.7,66.9 C150.5,65 153.5,64.6 155.3,66.3 C158.8,69 162.4,68.6 164.3,70.4 C168,75.2 170.3,76 171.3,78.5 C172.5,81.5 172.6,85 172.3,88 C171.9,92.5 171.2,96 170,99.5 C168.5,104 166.4,107.5 165.2,111 C164,115 163.7,118.5 163.6,122 Z" fill="#fff" stroke="none"/>
<path class="k" style="stroke:#111;stroke-width:1.35" d="M139.4,122.6 C140.4,118 140.4,115 139.5,111.5 C138,105.5 134.5,98 132.9,90 C131.8,84 132.6,72 132.9,66.4 L133.5,36.5 A3.6,3.6 0 0 1 140.7,36.5 L143,76 L148.7,66.9 C150.5,65 153.5,64.6 155.3,66.3 C156.8,67.8 157.2,69.5 156.9,71.5 L155.2,78.6 L156.9,71.5 C158.8,69 162.4,68.6 164.3,70.4 C165.8,71.8 166,73.6 165.7,75.4 L164.4,81.8 L165.9,76.4 C168,75.2 170.3,76 171.3,78.5 C172.5,81.5 172.6,85 172.3,88 C171.9,92.5 171.2,96 170,99.5 C168.5,104 166.4,107.5 165.2,111 C164,115 163.7,118.5 163.6,122 "/>
<circle class="kw" style="stroke:#111;stroke-width:1.25" cx="137.1" cy="34.9" r="2.9"/>
<path class="k" style="stroke:#111;stroke-width:0.9" d="M135.3,45.6 C136.5,46.3 138.2,46.3 139.4,45.5"/>
<path class="k" style="stroke:#111;stroke-width:0.8" d="M135.4,59.8 L139.8,59.8 M135.8,61 L139.4,61 M136.2,62.2 L139,62.2"/>
</g>
<path class="kw" style="stroke:#111;stroke-width:1.25" d="M225,5.6 C224.6,2.8 228.8,1.6 229.6,4.4 C233,15 234.2,24 233.3,33 C232.2,43.5 228.5,51.5 223,57.2 L229.8,59.4 L207.5,69.2 L217.8,47.4 L219.9,53 C224.5,47 227.5,40 228.5,32 C229.6,23.5 228.2,14.5 225,5.6 Z"/>
<path class="kw" style="stroke:#111;stroke-width:1.25" d="M224.8,1311.6 C224.2,1314.6 228.6,1315.8 229.6,1313 C232.3,1305.5 233.8,1297.5 233.6,1288.6 C233.4,1278.5 229.5,1269 223.4,1260.8 L230.5,1258.9 L207,1248.4 L218.1,1270.6 L219.8,1264.9 C224.5,1271.5 227.8,1279.5 228.4,1288.6 C228.9,1297 227.2,1304.5 224.8,1311.6 Z"/>
<path d="M376,38 L404,38 L407.5,35.6 L410.2,35.2 L410.2,38.2 L425.4,38.2 L425.4,36.6 L427.8,36.6 L427.8,51.9 L425.4,51.9 L425.4,50.4 L410.2,50.4 L410.2,53.3 L407.5,53 L404,50.5 L376,50.5 C370.2,50.5 370.2,38 376,38 Z" fill="#151515"/>
<rect x="408.5" y="42.2" width="1.5" height="6" fill="#fff"/>
<rect x="422.4" y="42.3" width="2.4" height="4.4" fill="#fff"/>
<path d="M374.5,42 L376.5,41.6 M378.5,41.3 L382,41.3 M384.5,41.3 L388,41.3 M390.5,41.4 L394,41.4 M396.5,41.6 L400,41.6 M402,42 L405,42 M374.5,47 L376.5,47.4 M378.5,46.2 L381.5,46.2 L381.5,48.2 L378.5,48.2 Z M384.5,47.4 L388,47.4 M390.5,47.4 L394,47.4 M396.5,47.4 L400,47.4 M402,47.2 L405.5,47.2" stroke="#bbb" stroke-width="0.75" fill="none"/>
<path d="M412.5,44.4 L420,44.4" stroke="#555" stroke-width="1.2" stroke-dasharray="1.2 1.2" fill="none"/>
<text transform="translate(401,65.8) scale(0.82,1)" font-family="Liberation Sans, sans-serif" style="font-weight:700" font-size="10.6" fill="#111" stroke="#111" stroke-width="0.55">x2</text>
<path d="M369.8,72.4 L374.8,69.3 L435.2,76.1 L434.8,83.3 L373.9,75.7 Z" fill="#151515"/>
<path d="M432,78 L434.1,78.3 L433.9,81.7 L431.8,81.4 Z" fill="#fff"/>
<path d="M412.6,5.2 L426.5,9.2" style="stroke:#151515;stroke-width:2.5;stroke-linecap:round;fill:none"/>
<path style="stroke:#151515;stroke-width:2.0;stroke-linejoin:round;stroke-linecap:round;fill:#fff" d="M427.7,6.8 L433.4,4.3 L438.5,3.2 L444.7,5 L449.8,9.6 L449.2,24.9 L441.3,22.1 L432.2,17 L428.2,11.3 Z"/>
<path style="stroke:#151515;stroke-width:1.7;stroke-linejoin:round;stroke-linecap:round;fill:none" d="M433.4,4.3 C430.4,8 430.4,13 432.4,17 M444.7,5 C440.4,9 440,17 441.4,22.1"/>
<path style="stroke:#151515;stroke-width:2.0;stroke-linejoin:round;stroke-linecap:round;fill:#fff" d="M449.8,9.6 L454.9,6.5 L458.3,4.8 L494,14.2 L493.5,22.7 L495.7,28.4 L497.7,37.1 L502.8,75.6 L506.4,76.7 L506.4,101.4 L490.9,107 L471.1,102.1 L471.8,76.7 L479.2,73.4 L481.7,70.5 L474.2,45.8 L473,32.3 L449.2,24.9 Z"/>
<path style="stroke:#151515;stroke-width:1.7;stroke-linejoin:round;stroke-linecap:round;fill:none" d="M454.9,6.9 L489.5,15.4 L494,14.2"/>
<path d="M455.5,6.4 L458.4,5 L493,14.1 L489.5,15.2 Z" fill="#151515"/>
<path style="stroke:#151515;stroke-width:1.7;stroke-linejoin:round;stroke-linecap:round;fill:none" d="M449.8,9.6 L483.2,18.1 L492.3,14.9 M449.6,15.9 L480.4,23.2 M473,32.3 L479.8,30.6 L480.4,23.2 L483.2,18.1 M480.4,23.2 L482.1,29.5 L484.4,38.6 L490,44.8 L497.7,37.1 M484.4,26.1 L493.6,22.9 M485.5,31.8 L494.8,28.9 M475.2,39.6 L484.4,38.6 M476.4,45.6 L490,44.8 L497.9,75.4 M484.1,45.4 L492.2,74.6"/>
<path style="stroke:#151515;stroke-width:1.7;stroke-linejoin:round;stroke-linecap:round;fill:none" d="M471.8,76.7 L490.9,82.3 L506.4,76.7 M490.9,82.3 L490.9,107 M489.3,82 L489.3,106.5 M479.2,73.4 L484.6,76.2 L492.2,75.2 L497.9,75.4 L502.8,75.6 M484.6,76.2 L480.6,78.9"/>
</svg>
</body></html>
